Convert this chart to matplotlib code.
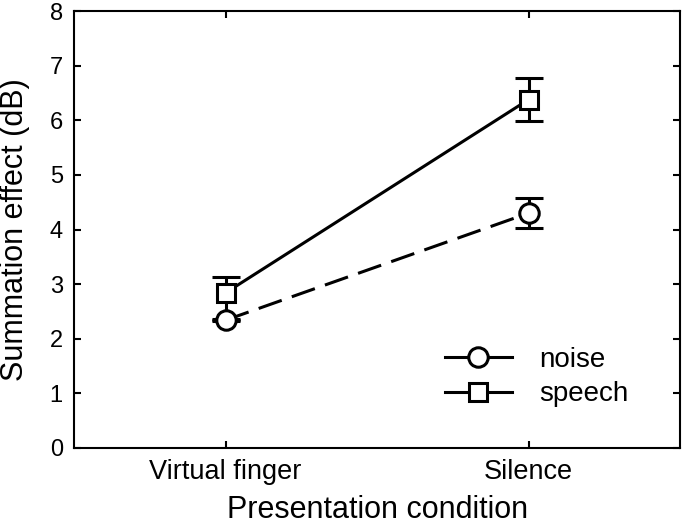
import matplotlib
matplotlib.use('Agg')
import matplotlib.pyplot as plt
from matplotlib.lines import Line2D

plt.rcParams['font.family'] = ['Liberation Sans', 'DejaVu Sans']

# ======= data =======
conditions = ['Virtual finger', 'Silence']
noise_mean = [2.34, 4.30]
noise_err_lo = [0.02, 0.28]
noise_err_hi = [0.02, 0.28]
speech_mean = [2.84, 6.38]
speech_err_lo = [0.49, 0.39]
speech_err_hi = [0.29, 0.39]

x = [1, 2]
LW = 2.2
DASH = (8, 3.5)

fig = plt.figure(figsize=(6.85, 5.25), dpi=100)
ax = fig.add_axes([0.108, 0.1467, 0.885, 0.8323])

# error bars first (behind the markers)
ax.errorbar(x, speech_mean, yerr=[speech_err_lo, speech_err_hi], fmt='none',
            ecolor='black', capsize=10, capthick=LW, elinewidth=LW, zorder=2)
ax.errorbar(x, noise_mean, yerr=[noise_err_lo, noise_err_hi], fmt='none',
            ecolor='black', capsize=10, capthick=LW, elinewidth=LW, zorder=2)

# lines + markers on top
ax.plot(x, speech_mean, color='black', lw=LW, marker='s', markersize=13,
        mfc='white', mec='black', mew=LW, zorder=3)
ax.plot(x, noise_mean, color='black', lw=LW, dashes=DASH, marker='o',
        markersize=14, mfc='white', mec='black', mew=LW, zorder=4)

ax.set_xlim(0.5, 2.5)
ax.set_ylim(0, 8)
ax.set_xticks(x)
ax.set_xticklabels(conditions, fontsize=19.5)
ax.set_yticks(range(0, 9))
ax.tick_params(axis='y', labelsize=17)
ax.tick_params(direction='in', length=5, width=1.5, top=True, right=True, pad=8)
for s in ax.spines.values():
    s.set_linewidth(1.5)

ax.set_xlabel('Presentation condition', fontsize=22, labelpad=7)
ax.set_ylabel('Summation effect (dB)', fontsize=22)
ax.yaxis.set_label_coords(-0.073, 0.5)

# legend with plain line handles (no error bars)
h_noise = Line2D([], [], color='black', lw=LW, marker='o', markersize=14,
                 mfc='white', mec='black', mew=LW)
h_speech = Line2D([], [], color='black', lw=LW, marker='s', markersize=13,
                  mfc='white', mec='black', mew=LW)
ax.legend([h_noise, h_speech], ['noise', 'speech'], loc='upper left',
          bbox_to_anchor=(0.612, 0.231), frameon=False, fontsize=20,
          borderpad=0, borderaxespad=0, handlelength=2.4, handletextpad=1.0,
          labelspacing=0.3)

fig.savefig('out.png', dpi=100)
